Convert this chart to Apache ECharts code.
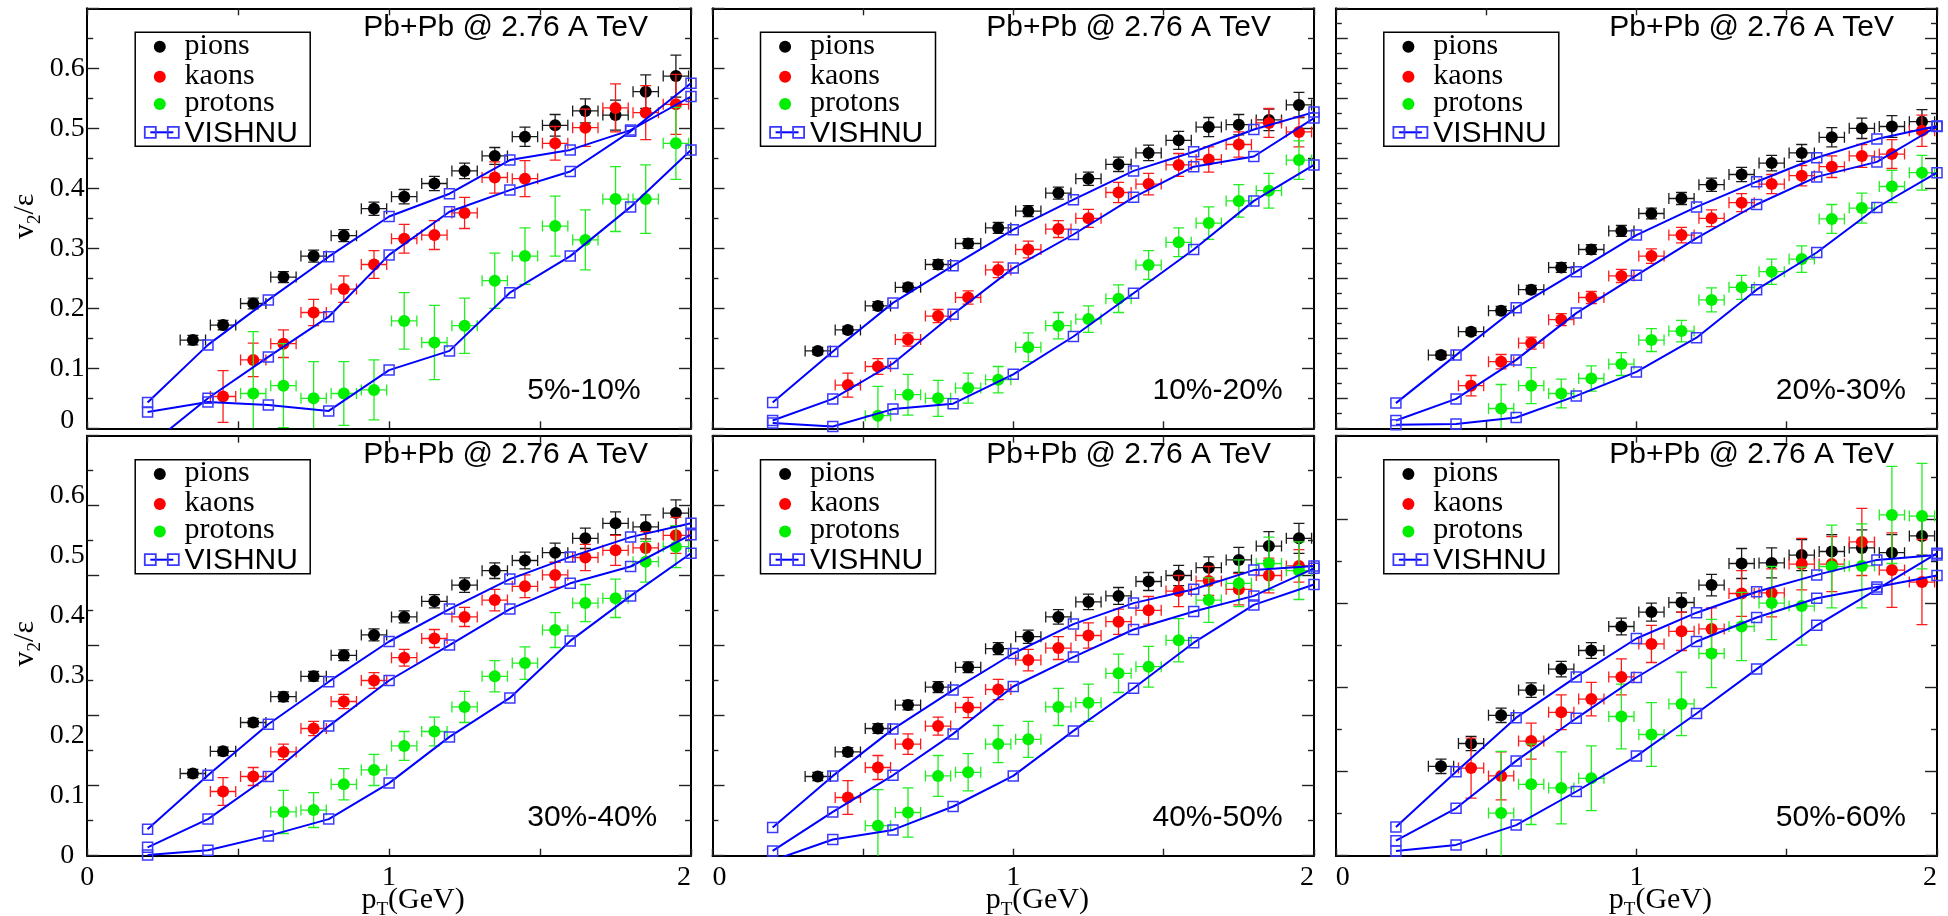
<!DOCTYPE html>
<html>
<head>
<meta charset="utf-8">
<script src="https://cdn.jsdelivr.net/npm/echarts@6/dist/echarts.min.js"></script>
<style>
  html, body { margin: 0; padding: 0; background: #ffffff; }
  #chart { width: 1948px; height: 916px; }
</style>
</head>
<body>
<div id="chart"></div>
<script>
// ---- data -------------------------------------------------------------
const centralities = ['5%-10%', '10%-20%', '20%-30%', '30%-40%', '40%-50%', '50%-60%'];
const systemLabel = 'Pb+Pb @ 2.76 A TeV';
const speciesNames = ['pions', 'kaons', 'protons'];
const modelName = 'VISHNU';
const yTickLabels = ['0', '0.1', '0.2', '0.3', '0.4', '0.5', '0.6'];
const xTickLabels = ['0', '1', '2'];

// transverse-momentum bin centres (GeV)
const pionPt   = [0.35, 0.45, 0.55, 0.65, 0.75, 0.85, 0.95, 1.05, 1.15, 1.25, 1.35, 1.45, 1.55, 1.65, 1.75, 1.85, 1.95];
const kaonPt   = [0.45, 0.55, 0.65, 0.75, 0.85, 0.95, 1.05, 1.15, 1.25, 1.35, 1.45, 1.55, 1.65, 1.75, 1.85, 1.95];
const protonPt = [0.55, 0.65, 0.75, 0.85, 0.95, 1.05, 1.15, 1.25, 1.35, 1.45, 1.55, 1.65, 1.75, 1.85, 1.95];
const vishnuPt = [0.2, 0.4, 0.6, 0.8, 1.0, 1.2, 1.4, 1.6, 1.8, 2.0];
const ptHalfWidth = 0.042;   // horizontal error bar half-width (GeV)

// v2/eps per centrality class (rows follow `centralities`)
const pionV2 = [
  [0.147, 0.172, 0.208, 0.252, 0.287, 0.321, 0.366, 0.386, 0.408, 0.429, 0.454, 0.486, 0.505, 0.529, 0.522, 0.561, 0.587],
  [0.129, 0.164, 0.204, 0.235, 0.273, 0.308, 0.334, 0.362, 0.392, 0.416, 0.440, 0.459, 0.480, 0.502, 0.506, 0.514, 0.539],
  [0.122, 0.161, 0.196, 0.231, 0.268, 0.298, 0.329, 0.358, 0.383, 0.406, 0.423, 0.442, 0.459, 0.485, 0.500, 0.503, 0.511],
  [0.137, 0.174, 0.222, 0.265, 0.299, 0.334, 0.368, 0.398, 0.424, 0.451, 0.475, 0.492, 0.505, 0.529, 0.554, 0.548, 0.571],
  [0.132, 0.173, 0.212, 0.251, 0.281, 0.314, 0.345, 0.365, 0.398, 0.423, 0.433, 0.457, 0.467, 0.480, 0.493, 0.516, 0.529],
  [0.149, 0.187, 0.234, 0.276, 0.311, 0.342, 0.382, 0.406, 0.422, 0.451, 0.487, 0.488, 0.501, 0.507, 0.513, 0.505, 0.533]
];
const pionErr = [
  [0.008, 0.008, 0.009, 0.009, 0.010, 0.010, 0.011, 0.012, 0.012, 0.013, 0.014, 0.016, 0.018, 0.020, 0.025, 0.028, 0.035],
  [0.006, 0.006, 0.007, 0.007, 0.008, 0.008, 0.009, 0.009, 0.010, 0.011, 0.012, 0.013, 0.015, 0.016, 0.017, 0.018, 0.021],
  [0.006, 0.006, 0.007, 0.007, 0.008, 0.008, 0.009, 0.009, 0.010, 0.011, 0.012, 0.013, 0.014, 0.016, 0.017, 0.018, 0.020],
  [0.007, 0.007, 0.007, 0.008, 0.008, 0.009, 0.010, 0.010, 0.011, 0.012, 0.013, 0.014, 0.016, 0.017, 0.019, 0.020, 0.022],
  [0.007, 0.007, 0.008, 0.008, 0.009, 0.009, 0.010, 0.011, 0.012, 0.013, 0.014, 0.015, 0.017, 0.018, 0.021, 0.024, 0.025],
  [0.012, 0.012, 0.012, 0.012, 0.013, 0.013, 0.014, 0.015, 0.016, 0.018, 0.025, 0.025, 0.026, 0.028, 0.030, 0.030, 0.032]
];
const kaonV2 = [
  [0.053, 0.114, 0.141, 0.193, 0.232, 0.273, 0.316, 0.322, 0.359, 0.418, 0.416, 0.475, 0.501, 0.534, 0.526, 0.540],
  [0.072, 0.103, 0.148, 0.187, 0.218, 0.264, 0.298, 0.332, 0.350, 0.393, 0.407, 0.439, 0.448, 0.473, 0.509, 0.494],
  [0.071, 0.111, 0.142, 0.181, 0.218, 0.254, 0.287, 0.322, 0.350, 0.376, 0.407, 0.421, 0.436, 0.454, 0.457, 0.496],
  [0.107, 0.132, 0.173, 0.212, 0.257, 0.292, 0.330, 0.362, 0.398, 0.426, 0.449, 0.468, 0.497, 0.509, 0.513, 0.534],
  [0.097, 0.147, 0.186, 0.216, 0.247, 0.277, 0.326, 0.346, 0.367, 0.390, 0.409, 0.441, 0.458, 0.444, 0.467, 0.483],
  [0.146, 0.133, 0.191, 0.239, 0.261, 0.298, 0.353, 0.374, 0.378, 0.437, 0.438, 0.486, 0.486, 0.523, 0.476, 0.456]
];
const kaonErr = [
  [0.043, 0.028, 0.023, 0.022, 0.022, 0.023, 0.024, 0.024, 0.026, 0.026, 0.030, 0.028, 0.031, 0.040, 0.045, 0.050],
  [0.020, 0.013, 0.011, 0.011, 0.011, 0.013, 0.014, 0.014, 0.015, 0.017, 0.018, 0.019, 0.021, 0.021, 0.024, 0.025],
  [0.017, 0.012, 0.010, 0.010, 0.010, 0.011, 0.012, 0.013, 0.014, 0.015, 0.016, 0.017, 0.018, 0.019, 0.024, 0.026],
  [0.023, 0.015, 0.013, 0.012, 0.012, 0.013, 0.014, 0.015, 0.016, 0.018, 0.019, 0.021, 0.022, 0.025, 0.027, 0.030],
  [0.028, 0.020, 0.017, 0.015, 0.017, 0.017, 0.018, 0.019, 0.021, 0.021, 0.023, 0.026, 0.024, 0.026, 0.029, 0.027],
  [0.050, 0.040, 0.030, 0.029, 0.028, 0.030, 0.031, 0.032, 0.035, 0.038, 0.040, 0.043, 0.046, 0.056, 0.062, 0.071]
];
const protonV2 = [
  [0.058, 0.071, 0.050, 0.058, 0.064, 0.179, 0.143, 0.171, 0.246, 0.287, 0.337, 0.314, 0.382, 0.382, 0.475],
  [0.021, 0.056, 0.050, 0.067, 0.081, 0.135, 0.171, 0.182, 0.216, 0.272, 0.310, 0.342, 0.379, 0.396, 0.447],
  [0.033, 0.071, 0.058, 0.083, 0.107, 0.147, 0.162, 0.214, 0.235, 0.261, 0.282, 0.349, 0.367, 0.403, 0.426],
  [null,  0.073, 0.076, 0.119, 0.143, 0.183, 0.207, 0.248, 0.299, 0.321, 0.376, 0.421, 0.429, 0.490, 0.515],
  [0.050, 0.072, 0.133, 0.139, 0.186, 0.194, 0.248, 0.255, 0.304, 0.315, 0.359, 0.426, 0.454, 0.487, 0.475],
  [0.071, 0.119, 0.113, 0.129, 0.232, 0.202, 0.253, 0.337, 0.382, 0.421, 0.416, 0.482, 0.483, 0.568, 0.566]
];
const protonErr = [
  [0.103, 0.070, 0.061, 0.053, 0.050, 0.047, 0.062, 0.046, 0.046, 0.047, 0.050, 0.050, 0.054, 0.057, 0.060],
  [0.049, 0.034, 0.030, 0.025, 0.022, 0.024, 0.022, 0.022, 0.023, 0.024, 0.024, 0.027, 0.027, 0.029, 0.032],
  [0.040, 0.030, 0.024, 0.021, 0.019, 0.019, 0.018, 0.020, 0.020, 0.021, 0.022, 0.024, 0.025, 0.027, 0.029],
  [null,  0.036, 0.029, 0.026, 0.026, 0.024, 0.024, 0.026, 0.026, 0.027, 0.029, 0.031, 0.032, 0.034, 0.035],
  [0.060, 0.041, 0.034, 0.031, 0.031, 0.030, 0.031, 0.031, 0.032, 0.034, 0.036, 0.037, 0.039, 0.044, 0.048],
  [0.103, 0.067, 0.060, 0.054, 0.054, 0.053, 0.053, 0.057, 0.057, 0.061, 0.065, 0.069, 0.070, 0.081, 0.088]
];

// VISHNU hydro + cascade curves
const vishnuPion = [
  [0.043, 0.139, 0.214, 0.286, 0.353, 0.391, 0.447, 0.464, 0.497, 0.553],
  [0.043, 0.128, 0.209, 0.271, 0.331, 0.381, 0.429, 0.461, 0.498, 0.527],
  [0.042, 0.122, 0.201, 0.261, 0.322, 0.369, 0.411, 0.451, 0.482, 0.504],
  [0.044, 0.134, 0.219, 0.290, 0.357, 0.411, 0.461, 0.498, 0.531, 0.554],
  [0.047, 0.133, 0.211, 0.276, 0.337, 0.386, 0.421, 0.444, 0.476, 0.483],
  [0.048, 0.140, 0.230, 0.298, 0.362, 0.405, 0.440, 0.468, 0.493, 0.501]
];
const vishnuKaon = [
  [-0.031, 0.050, 0.119, 0.186, 0.289, 0.361, 0.397, 0.428, 0.495, 0.575],
  [0.013, 0.049, 0.108, 0.190, 0.267, 0.323, 0.385, 0.436, 0.453, 0.517],
  [0.013, 0.049, 0.114, 0.192, 0.255, 0.317, 0.373, 0.419, 0.444, 0.503],
  [0.014, 0.061, 0.132, 0.216, 0.292, 0.351, 0.411, 0.454, 0.482, 0.535],
  [0.008, 0.073, 0.134, 0.203, 0.282, 0.331, 0.377, 0.407, 0.433, 0.479],
  [0.025, 0.079, 0.158, 0.229, 0.297, 0.357, 0.397, 0.429, 0.448, 0.467]
];
const vishnuProton = [
  [0.027, 0.044, 0.039, 0.029, 0.097, 0.129, 0.226, 0.287, 0.369, 0.464],
  [0.009, 0.003, 0.032, 0.041, 0.090, 0.153, 0.225, 0.298, 0.379, 0.439],
  [0.006, 0.007, 0.018, 0.054, 0.094, 0.151, 0.231, 0.293, 0.368, 0.426],
  [0.001, 0.009, 0.033, 0.061, 0.121, 0.198, 0.263, 0.358, 0.433, 0.504],
  [-0.008, 0.027, 0.043, 0.082, 0.133, 0.208, 0.279, 0.355, 0.418, 0.452],
  [0.008, 0.018, 0.051, 0.107, 0.166, 0.237, 0.311, 0.384, 0.444, 0.504]
];

// ---- layout & style ----------------------------------------------------
const SERIF = '"Liberation Serif", "DejaVu Serif", serif';
const SANS = '"Liberation Sans", Arial, sans-serif';
const colLefts = [87.2, 712.5, 1335.8];
const colWidths = [603.8, 601.5, 601.2];
const rowTops = [8.3, 435.7];
const panelHeight = 420;
const yTickInterval = [0.1, 0.1, 0.05, 0.7 / 6, 0.7 / 6, 0.14];
const speciesColors = ['#000000', '#ff0000', '#00ee00'];
const barColors = ['#1a1a1a', '#ff1a1a', '#22ee22'];
const lineBlue = '#0000ff';
const squareBlue = '#3a3aff';

const frameLine = { show: true, onZero: false, lineStyle: { color: '#000', width: 2 } };
const tickStyle = { color: '#222', width: 1.4 };

function errorBarRenderer(color) {
  return function (params, api) {
    const x = api.value(0), y = api.value(1), e = api.value(2);
    const top = api.coord([x, y + e]);
    const bot = api.coord([x, y - e]);
    const lft = api.coord([x - ptHalfWidth, y]);
    const rgt = api.coord([x + ptHalfWidth, y]);
    const cap = 5.5;
    const style = { stroke: color, lineWidth: 1.3, fill: null };
    const seg = (x1, y1, x2, y2) => ({ type: 'line', shape: { x1, y1, x2, y2 }, style });
    return {
      type: 'group',
      children: [
        seg(top[0], top[1], bot[0], bot[1]),
        seg(top[0] - cap, top[1], top[0] + cap, top[1]),
        seg(bot[0] - cap, bot[1], bot[0] + cap, bot[1]),
        seg(lft[0], lft[1], rgt[0], rgt[1]),
        seg(lft[0], lft[1] - cap, lft[0], lft[1] + cap),
        seg(rgt[0], rgt[1] - cap, rgt[0], rgt[1] + cap)
      ]
    };
  };
}

function points(xs, ys, errs) {
  const out = [];
  xs.forEach((x, i) => {
    if (ys[i] !== null && ys[i] !== undefined) out.push([x, ys[i], errs ? errs[i] : 0]);
  });
  return out;
}

const grids = [], xAxes = [], yAxes = [], series = [], graphics = [];

for (let p = 0; p < 6; p++) {
  const row = Math.floor(p / 3), col = p % 3;
  const L = colLefts[col], W = colWidths[col], T = rowTops[row];
  grids.push({ left: L, top: T, width: W, height: panelHeight, containLabel: false, outerBoundsMode: 'none' });

  const xi = xAxes.length;
  const xBase = {
    gridIndex: p, type: 'value', min: 0, max: 2, interval: 0.5,
    axisLine: frameLine,
    axisTick: { show: true, inside: true, length: 7, lineStyle: tickStyle },
    splitLine: { show: false }
  };
  xAxes.push(Object.assign({}, xBase, {
    position: 'bottom',
    axisLabel: {
      show: row === 1, margin: 8, color: '#000', fontFamily: SERIF, fontSize: 28,
      alignMinLabel: col === 0 ? 'center' : 'left', alignMaxLabel: 'right',
      formatter: v => {
        const k = Math.round(v);
        return Math.abs(v - k) < 1e-6 ? xTickLabels[k] : '';
      }
    }
  }));
  xAxes.push(Object.assign({}, xBase, { position: 'top', axisLabel: { show: false } }));

  const yi = yAxes.length;
  const yBase = {
    gridIndex: p, type: 'value', min: 0, max: 0.7, interval: yTickInterval[p],
    axisLine: frameLine,
    axisTick: { show: true, inside: true, length: 12, lineStyle: tickStyle },
    minorTick: { show: true, splitNumber: 2, length: 6, lineStyle: tickStyle },
    axisLabel: { show: false },
    splitLine: { show: false }, minorSplitLine: { show: false }
  };
  yAxes.push(Object.assign({}, yBase, { position: 'left' }));
  yAxes.push(Object.assign({}, yBase, { position: 'right' }));
  if (col === 0) {
    yAxes.push({
      gridIndex: p, type: 'value', min: 0, max: 0.7, interval: 0.1, position: 'left',
      axisLine: { show: false }, axisTick: { show: false }, splitLine: { show: false },
      axisLabel: {
        show: true, margin: 20, align: 'center', color: '#000', fontFamily: SERIF, fontSize: 28,
        formatter: v => {
          const k = Math.round(v * 10);
          const s = yTickLabels[k];
          if (s === undefined) return '';
          return (k === 0 && row === 0) ? '{up|' + s + '}' : s;
        },
        rich: { up: { fontFamily: SERIF, fontSize: 28, color: '#000', padding: [0, 0, 16, 0] } }
      }
    });
  }

  // measured data: error bars then markers, one species after another
  const speciesData = [
    points(pionPt, pionV2[p], pionErr[p]),
    points(kaonPt, kaonV2[p], kaonErr[p]),
    points(protonPt, protonV2[p], protonErr[p])
  ];
  speciesData.forEach((d, s) => {
    series.push({
      type: 'custom', name: speciesNames[s], xAxisIndex: xi, yAxisIndex: yi,
      renderItem: errorBarRenderer(barColors[s]), data: d, encode: { x: 0, y: 1 },
      clip: true, silent: true, z: 2 + s * 2
    });
    series.push({
      type: 'scatter', name: speciesNames[s], xAxisIndex: xi, yAxisIndex: yi,
      data: d.map(v => [v[0], v[1]]), symbol: 'circle', symbolSize: 12,
      itemStyle: { color: speciesColors[s], opacity: 1 }, clip: true, silent: true, z: 3 + s * 2
    });
  });

  // VISHNU curves
  [vishnuPion[p], vishnuKaon[p], vishnuProton[p]].forEach(vals => {
    series.push({
      type: 'line', name: modelName, xAxisIndex: xi, yAxisIndex: yi,
      data: vishnuPt.map((x, i) => [x, vals[i]]),
      symbol: 'rect', symbolSize: 10, showSymbol: true, showAllSymbol: true,
      lineStyle: { color: lineBlue, width: 2 },
      itemStyle: { color: 'rgba(255,255,255,0)', borderColor: squareBlue, borderWidth: 1.5 },
      clip: true, silent: true, z: 10
    });
  });

  // panel texts
  graphics.push({
    type: 'text', x: L + W - 43, y: T + 19.5, z: 50,
    style: { text: systemLabel, font: '30px ' + SANS, fill: '#000', align: 'right', verticalAlign: 'middle' }
  });
  graphics.push({
    type: 'text', x: L + 440, y: T + 382, z: 50,
    style: { text: centralities[p], font: '30px ' + SANS, fill: '#000', align: 'left', verticalAlign: 'middle' }
  });

  // legend box
  graphics.push({
    type: 'rect', z: 50, shape: { x: L + 48, y: T + 24, width: 175, height: 114 },
    style: { fill: '#fff', stroke: '#000', lineWidth: 1.5 }
  });
  const rowsY = [T + 38.4, T + 68.4, T + 95.7];
  speciesNames.forEach((name, s) => {
    graphics.push({ type: 'circle', z: 51, shape: { cx: L + 72.6, cy: rowsY[s], r: 6 }, style: { fill: speciesColors[s] } });
    graphics.push({
      type: 'text', x: L + 97.4, y: rowsY[s] - 1, z: 51,
      style: { text: name, font: '30px ' + SERIF, fill: '#000', align: 'left', verticalAlign: 'middle' }
    });
  });
  const vy = T + 124;
  graphics.push({ type: 'line', z: 51, shape: { x1: L + 63.1, y1: vy, x2: L + 86.1, y2: vy }, style: { stroke: lineBlue, lineWidth: 2 } });
  [L + 63.1, L + 86.1].forEach(cx => {
    graphics.push({ type: 'rect', z: 52, shape: { x: cx - 5.5, y: vy - 5.5, width: 11, height: 11 }, style: { fill: 'rgba(255,255,255,0)', stroke: squareBlue, lineWidth: 1.8 } });
  });
  graphics.push({
    type: 'text', x: L + 97.4, y: vy + 1, z: 51,
    style: { text: modelName, font: '30px ' + SANS, fill: '#000', align: 'left', verticalAlign: 'middle' }
  });

  // axis titles
  if (col === 0) {
    graphics.push({
      type: 'text', x: 25, y: T + 208, rotation: Math.PI / 2, z: 50,
      style: {
        text: '{m|v}{s|2}{m|/ε}', align: 'center', verticalAlign: 'middle',
        rich: {
          m: { fontFamily: SERIF, fontSize: 30, lineHeight: 40, verticalAlign: 'middle', fill: '#000' },
          s: { fontFamily: SERIF, fontSize: 19, lineHeight: 20, verticalAlign: 'bottom', fill: '#000' }
        }
      }
    });
  }
  if (row === 1) {
    graphics.push({
      type: 'text', x: L + W / 2 + 24, y: 900, z: 50,
      style: {
        text: '{m|p}{s|T}{m|(GeV)}', align: 'center', verticalAlign: 'middle',
        rich: {
          m: { fontFamily: SERIF, fontSize: 30, lineHeight: 40, verticalAlign: 'middle', fill: '#000' },
          s: { fontFamily: SERIF, fontSize: 19, lineHeight: 20, verticalAlign: 'bottom', fill: '#000' }
        }
      }
    });
  }
}

const chart = echarts.init(document.getElementById('chart'), null, { renderer: 'canvas', width: 1948, height: 916 });
chart.setOption({
  backgroundColor: '#ffffff',
  animation: false,
  textStyle: { fontFamily: SERIF },
  grid: grids,
  xAxis: xAxes,
  yAxis: yAxes,
  series: series,
  graphic: graphics
});
</script>
</body>
</html>
